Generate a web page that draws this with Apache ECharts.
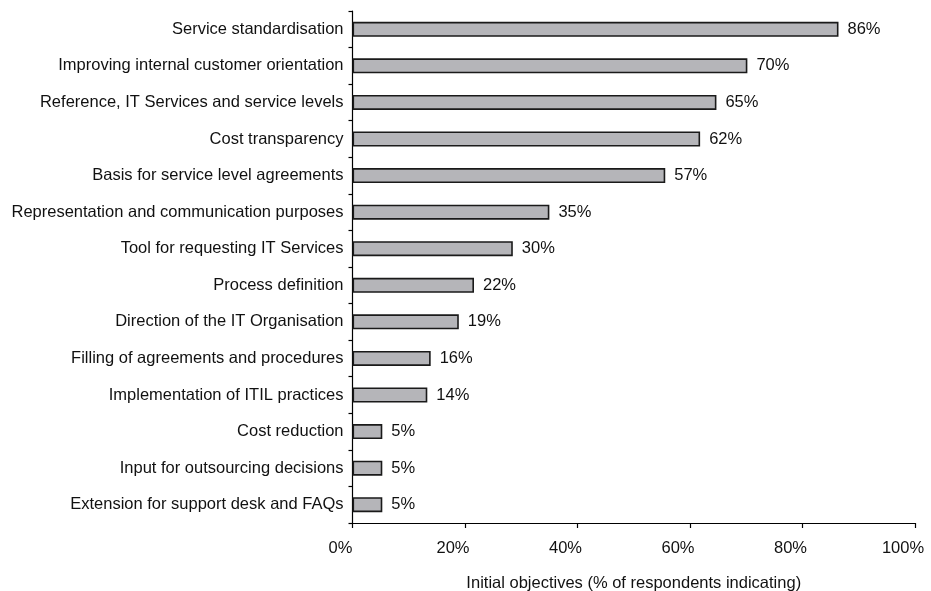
<!DOCTYPE html>
<html><head><meta charset="utf-8">
<script src="https://cdn.jsdelivr.net/npm/echarts@6/dist/echarts.min.js"></script>
<style>html,body{margin:0;padding:0;background:#fff;overflow:hidden}#c{width:931px;height:591px}</style>
</head><body><div id="c"></div>
<script>
const categories = [
  'Service standardisation',
  'Improving internal customer orientation',
  'Reference, IT Services and service levels',
  'Cost transparency',
  'Basis for service level agreements',
  'Representation and communication purposes',
  'Tool for requesting IT Services',
  'Process definition',
  'Direction of the IT Organisation',
  'Filling of agreements and procedures',
  'Implementation of ITIL practices',
  'Cost reduction',
  'Input for outsourcing decisions',
  'Extension for support desk and FAQs'
];
const values = [86.4, 70.2, 64.7, 61.8, 55.6, 35.0, 28.5, 21.6, 18.9, 13.9, 13.3, 5.3, 5.3, 5.3];
const valueLabels = ['86%','70%','65%','62%','57%','35%','30%','22%','19%','16%','14%','5%','5%','5%'];
const xTicks = [0, 20, 40, 60, 80, 100];
const axisTitle = 'Initial objectives (% of respondents indicating)';

const chart = echarts.init(document.getElementById('c'), null, {renderer: 'canvas'});
const font = 'Liberation Sans, Arial, sans-serif';
const fs = 16.5;
chart.setOption({
  animation: false,
  grid: {left: 352.5, right: 16, top: 11, bottom: 68, containLabel: false, outerBoundsMode: 'none'},
  xAxis: {
    type: 'value', min: xTicks[0], max: xTicks[xTicks.length - 1], interval: 20,
    axisLine: {show: true, lineStyle: {color: '#000', width: 1.2}},
    axisTick: {show: true, length: 5, lineStyle: {color: '#000', width: 1.2}},
    splitLine: {show: false},
    axisLabel: {formatter: '{value}%', color: '#111', fontFamily: font, fontSize: fs, margin: 17,
                align: 'center', padding: [0, 24, 0, 0]},
    name: axisTitle, nameLocation: 'middle', nameGap: 52,
    nameTextStyle: {color: '#111', fontFamily: font, fontSize: fs}
  },
  yAxis: {
    type: 'category', data: categories.slice().reverse(),
    axisLine: {show: true, lineStyle: {color: '#000', width: 1.2}},
    axisTick: {show: true, length: 4, lineStyle: {color: '#000', width: 1.2}},
    axisLabel: {color: '#111', fontFamily: font, fontSize: fs, margin: 9},
    splitLine: {show: false}
  },
  series: [{
    type: 'bar',
    data: values.slice().reverse().map((v, i) => ({value: v, lbl: valueLabels.slice().reverse()[i]})),
    barWidth: 15,
    itemStyle: {color: '#b5b5b9', borderColor: '#1a1a1a', borderWidth: 1.6},
    label: {
      show: true, position: 'right', distance: 9,
      formatter: p => p.data.lbl,
      color: '#111', fontFamily: font, fontSize: fs
    }
  }]
});
</script></body></html>
